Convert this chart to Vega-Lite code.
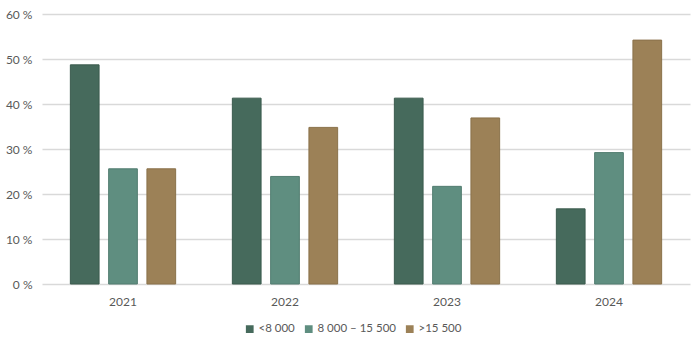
{
  "$schema": "https://vega.github.io/schema/vega-lite/v6.json",
  "width": 700,
  "height": 350,
  "autosize": {"type": "fit", "contains": "padding"},
  "padding": {"left": 5, "right": 10, "top": 8, "bottom": 43},
  "background": "white",
  "config": {
    "font": "Lato",
    "view": {"stroke": null},
    "axis": {"labelFont": "Lato", "labelColor": "#595959", "labelFontSize": 12}
  },
  "data": {
    "values": [
      {"year": "2021", "group": "<8 000", "share": 48.7},
      {"year": "2021", "group": "8 000 – 15 500", "share": 25.6},
      {"year": "2021", "group": ">15 500", "share": 25.6},
      {"year": "2022", "group": "<8 000", "share": 41.3},
      {"year": "2022", "group": "8 000 – 15 500", "share": 23.9},
      {"year": "2022", "group": ">15 500", "share": 34.8},
      {"year": "2023", "group": "<8 000", "share": 41.3},
      {"year": "2023", "group": "8 000 – 15 500", "share": 21.7},
      {"year": "2023", "group": ">15 500", "share": 36.9},
      {"year": "2024", "group": "<8 000", "share": 16.7},
      {"year": "2024", "group": "8 000 – 15 500", "share": 29.2},
      {"year": "2024", "group": ">15 500", "share": 54.2}
    ]
  },
  "mark": {"type": "bar", "strokeWidth": 1},
  "encoding": {
    "x": {
      "field": "year", "type": "nominal",
      "scale": {"paddingInner": 0.35, "paddingOuter": 0.175},
      "axis": {"title": null, "labelAngle": 0, "domain": false, "ticks": false, "labelPadding": 12, "grid": false}
    },
    "xOffset": {
      "field": "group", "type": "nominal",
      "sort": ["<8 000", "8 000 – 15 500", ">15 500"],
      "scale": {"paddingInner": 0.25}
    },
    "y": {
      "field": "share", "type": "quantitative",
      "scale": {"domain": [0, 60]},
      "axis": {
        "title": null, "values": [0, 10, 20, 30, 40, 50, 60],
        "labelOverlap": false,
        "labelExpr": "datum.value + ' %'",
        "domain": false, "ticks": false, "labelPadding": 10,
        "gridColor": "#d9d9d9", "gridWidth": 1.3
      }
    },
    "color": {
      "field": "group", "type": "nominal",
      "sort": ["<8 000", "8 000 – 15 500", ">15 500"],
      "scale": {
        "domain": ["<8 000", "8 000 – 15 500", ">15 500"],
        "range": ["#466a5c", "#5f8e80", "#9c8157"]
      },
      "legend": {
        "title": null, "orient": "none", "direction": "horizontal",
        "legendX": 202, "legendY": 309,
        "symbolType": "square", "symbolSize": 60, "symbolStrokeWidth": 0,
        "labelFont": "Lato", "labelFontSize": 11.5, "labelColor": "#595959",
        "labelOffset": 3, "columnPadding": 8
      }
    },
    "stroke": {
      "field": "group", "type": "nominal",
      "scale": {
        "domain": ["<8 000", "8 000 – 15 500", ">15 500"],
        "range": ["#3a5a4d", "#527d70", "#8a714a"]
      },
      "legend": null
    }
  }
}
